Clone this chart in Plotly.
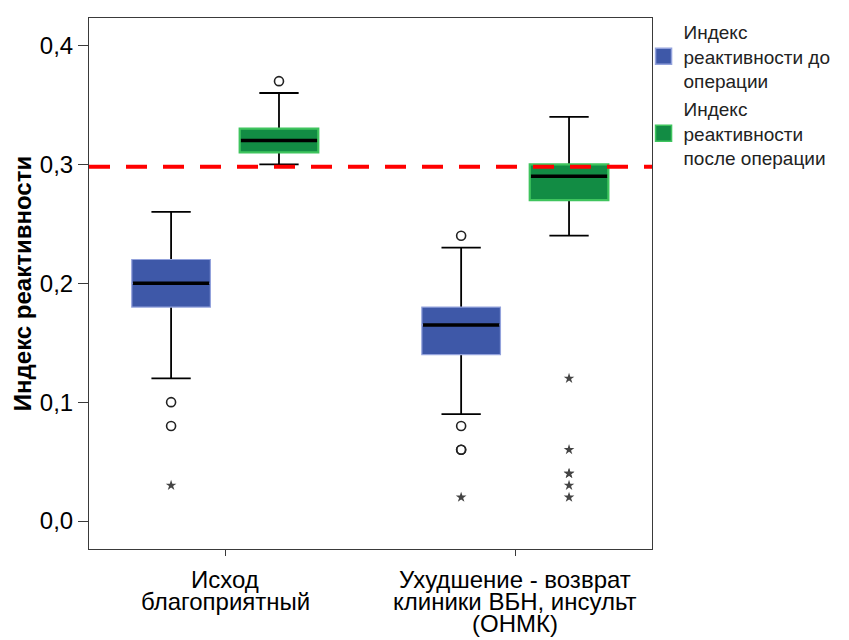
import plotly.graph_objects as go

# ---------------- data ----------------
categories = ["Исход\nблагоприятный", "Ухудшение - возврат\nклиники ВБН, инсульт\n(ОНМК)"]
series_names = ["Индекс<br>реактивности до<br>операции", "Индекс<br>реактивности<br>после операции"]

before_lower = [0.12, 0.09]
before_q1 = [0.18, 0.14]
before_median = [0.20, 0.165]
before_q3 = [0.22, 0.18]
before_upper = [0.26, 0.23]
before_out_circle = [[0.10, 0.08], [0.24, 0.08, 0.06, 0.06]]
before_out_star = [[0.03], [0.02]]

after_lower = [0.30, 0.24]
after_q1 = [0.31, 0.27]
after_median = [0.32, 0.29]
after_q3 = [0.33, 0.30]
after_upper = [0.36, 0.34]
after_out_circle = [[0.37], []]
after_out_star = [[], [0.12, 0.06, 0.04, 0.04, 0.03, 0.02]]

threshold = 0.298

y_ticks = [0.0, 0.1, 0.2, 0.3, 0.4]

# ---------------- style ----------------
FONT = "Liberation Sans, Arial, sans-serif"
BOX_W = 0.271
OFFSET = 0.186
series = [
    dict(name=series_names[0], lower=before_lower, q1=before_q1, med=before_median, q3=before_q3,
         upper=before_upper, circ=before_out_circle, star=before_out_star,
         fill="#3e58a8", border="#93a2dc", bw=1.2, off=-OFFSET),
    dict(name=series_names[1], lower=after_lower, q1=after_q1, med=after_median, q3=after_q3,
         upper=after_upper, circ=after_out_circle, star=after_out_star,
         fill="#128c44", border="#3fc45e", bw=2.2, off=OFFSET),
]

fig = go.Figure()

for s in series:
    xs = [i + s["off"] for i in range(len(categories))]
    # whiskers (black); their box collapses onto the median and is hidden under the coloured box
    fig.add_trace(go.Box(x=xs, q1=s["med"], median=s["med"], q3=s["med"],
                         lowerfence=s["lower"], upperfence=s["upper"],
                         width=BOX_W, whiskerwidth=0.5, boxpoints=False,
                         line=dict(color="black", width=1.8), fillcolor="rgba(0,0,0,0)",
                         showlegend=False, hoverinfo="skip"))
    # coloured box
    fig.add_trace(go.Box(x=xs, q1=s["q1"], median=s["med"], q3=s["q3"],
                         lowerfence=s["q1"], upperfence=s["q3"],
                         width=BOX_W, whiskerwidth=0, boxpoints=False,
                         line=dict(color=s["border"], width=s["bw"]), fillcolor=s["fill"],
                         showlegend=False, hoverinfo="skip"))
    # median (black)
    fig.add_trace(go.Box(x=xs, q1=s["med"], median=s["med"], q3=s["med"],
                         lowerfence=s["med"], upperfence=s["med"],
                         width=BOX_W * 0.97, whiskerwidth=0, boxpoints=False,
                         line=dict(color="black", width=3.5), fillcolor="rgba(0,0,0,0)",
                         showlegend=False, hoverinfo="skip"))
    # outliers
    cx, cy, sx, sy = [], [], [], []
    for i in range(len(categories)):
        for v in s["circ"][i]:
            cx.append(xs[i]); cy.append(v)
        for v in s["star"][i]:
            sx.append(xs[i]); sy.append(v)
    if cx:
        fig.add_trace(go.Scatter(x=cx, y=cy, mode="markers", showlegend=False, hoverinfo="skip",
                                 marker=dict(symbol="circle-open", size=9, color="#222",
                                             line=dict(width=1.6, color="#222"))))
    if sx:
        fig.add_trace(go.Scatter(x=sx, y=sy, mode="markers", showlegend=False, hoverinfo="skip",
                                 marker=dict(symbol="star", size=8, color="#444",
                                             line=dict(width=0))))

# legend entries
for s in series:
    fig.add_trace(go.Scatter(x=[None], y=[None], mode="markers", name=s["name"],
                             marker=dict(symbol="square", size=16, color=s["fill"],
                                         line=dict(color=s["border"], width=1.5))))

# reference line
fig.add_shape(type="line", xref="paper", x0=0, x1=1, yref="y", y0=threshold, y1=threshold,
              line=dict(color="#ff0000", width=4, dash="21px,16px"), layer="above")

# category labels (tight line spacing)
for i, lab in enumerate(categories):
    for k, line in enumerate(lab.split("\n")):
        fig.add_annotation(x=i, xref="x", y=0, yref="paper", text=line, showarrow=False,
                           yanchor="middle", xanchor="center", yshift=-30 - 22 * k,
                           font=dict(family=FONT, size=24, color="black"))

fig.update_layout(
    template="none",
    width=841, height=632,
    margin=dict(l=81, r=197, t=10, b=91, autoexpand=False),
    paper_bgcolor="white", plot_bgcolor="white",
    separators=", ",
    boxmode="overlay",
    font=dict(family=FONT, color="black"),
    legend=dict(x=0.985, xanchor="left", y=1.01, yanchor="top", bgcolor="rgba(0,0,0,0)",
                font=dict(family=FONT, size=19, color="#222"), valign="middle",
                tracegroupgap=0),
    xaxis=dict(range=[-0.469, 1.472], showgrid=False, zeroline=False, showline=True, mirror=True,
               automargin=False,
               linecolor="#3a3a3a", linewidth=1, ticks="outside", ticklen=6, tickcolor="#3a3a3a",
               tickvals=[0, 1], showticklabels=False),
    yaxis=dict(range=[-0.0235, 0.4231], showgrid=False, zeroline=False, showline=True, mirror=True,
               automargin=False,
               linecolor="#3a3a3a", linewidth=1, ticks="outside", ticklen=10, tickcolor="#3a3a3a",
               tickvals=y_ticks, tickformat=".1f",
               tickfont=dict(family=FONT, size=24, color="black"),
               title=dict(text="<b>Индекс реактивности</b>", font=dict(family=FONT, size=24, color="black"))),
)

fig.write_html("out.html")
